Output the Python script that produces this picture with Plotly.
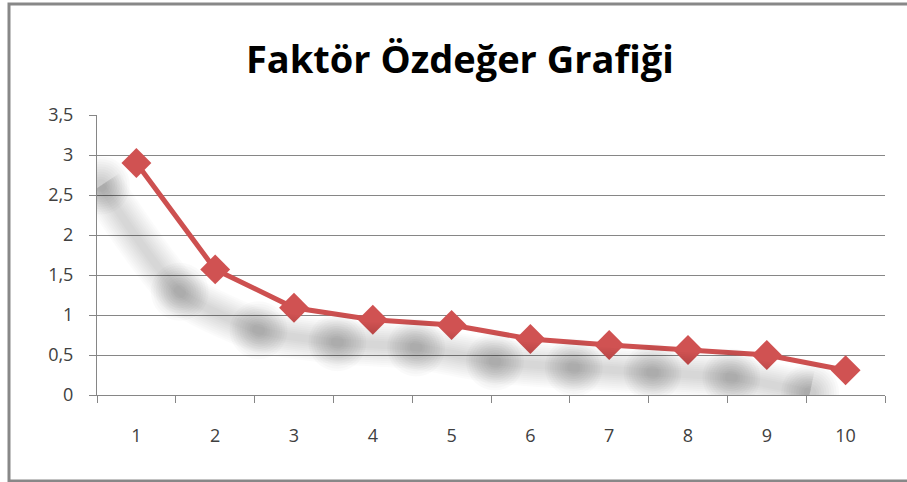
import plotly.graph_objects as go

categories = ["1", "2", "3", "4", "5", "6", "7", "8", "9", "10"]
eigenvalues = [2.90, 1.57, 1.09, 0.94, 0.875, 0.70, 0.625, 0.5625, 0.50, 0.31]
y_ticks = [0, 0.5, 1, 1.5, 2, 2.5, 3, 3.5]
y_tick_labels = ["0", "0,5", "1", "1,5", "2", "2,5", "3", "3,5"]
title_text = "Faktör Özdeğer Grafiği"

fig = go.Figure()

# soft blurred shadow drawn on offset overlay axes
shadow_dx = 0.45   # categories
shadow_dy = 0.28   # value units
xs = list(range(len(categories)))
for w in [44, 40, 36, 32, 28, 24, 20, 16, 12, 8]:
    fig.add_trace(go.Scatter(
        x=xs, y=eigenvalues, xaxis="x2", yaxis="y2",
        mode="lines", line=dict(color="rgba(0,0,0,0.016)", width=w, shape="spline", smoothing=0.6),
        hoverinfo="skip", showlegend=False))
for s in [58, 53, 48, 43, 38, 33, 28, 23, 18, 13]:
    fig.add_trace(go.Scatter(
        x=xs, y=eigenvalues, xaxis="x2", yaxis="y2",
        mode="markers", marker=dict(size=s, color="rgba(0,0,0,0.02)", line=dict(width=0)),
        hoverinfo="skip", showlegend=False))

fig.add_trace(go.Scatter(
    x=categories, y=eigenvalues, mode="lines+markers",
    line=dict(color="#CD5050", width=5),
    marker=dict(symbol="diamond", size=23, color="#D05252"),
    showlegend=False))

tick_font = dict(family="Open Sans", size=18, color="#404040")

fig.update_layout(
    width=907, height=482,
    margin=dict(l=97, r=22, t=115, b=87),
    paper_bgcolor="white", plot_bgcolor="white",
    title=dict(text=title_text, x=0.507, xanchor="center", y=0.877, yanchor="middle",
               font=dict(family="Open Sans", size=38, color="black", weight="bold")),
    xaxis=dict(type="category", showgrid=False, showline=True, linecolor="#868686", linewidth=1,
               ticks="outside", tickson="boundaries", ticklen=7, tickcolor="#868686",
               ticklabelstandoff=24,
               tickfont=tick_font, range=[-0.5, 9.5]),
    yaxis=dict(range=[0, 3.5], tickvals=y_ticks, ticktext=y_tick_labels,
               showgrid=True, gridcolor="#868686", gridwidth=1, zeroline=False,
               showline=True, linecolor="#868686", linewidth=1,
               ticks="outside", ticklen=7, tickcolor="#868686",
               ticklabelstandoff=12,
               tickfont=tick_font),
    xaxis2=dict(overlaying="x", range=[-0.5 + shadow_dx, 9.5 + shadow_dx], visible=False),
    yaxis2=dict(overlaying="y", range=[0 + shadow_dy, 3.5 + shadow_dy], visible=False),
    shapes=[dict(type="rect", xref="paper", yref="paper",
                 x0=-88/788, x1=1 + 30/788, y0=-86/280, y1=1 + 111/280,
                 line=dict(color="#888888", width=3), fillcolor="rgba(0,0,0,0)", layer="below")],
)

fig.write_html("out.html", config={"displayModeBar": False},
               post_script="document.body.style.margin='0px';")
